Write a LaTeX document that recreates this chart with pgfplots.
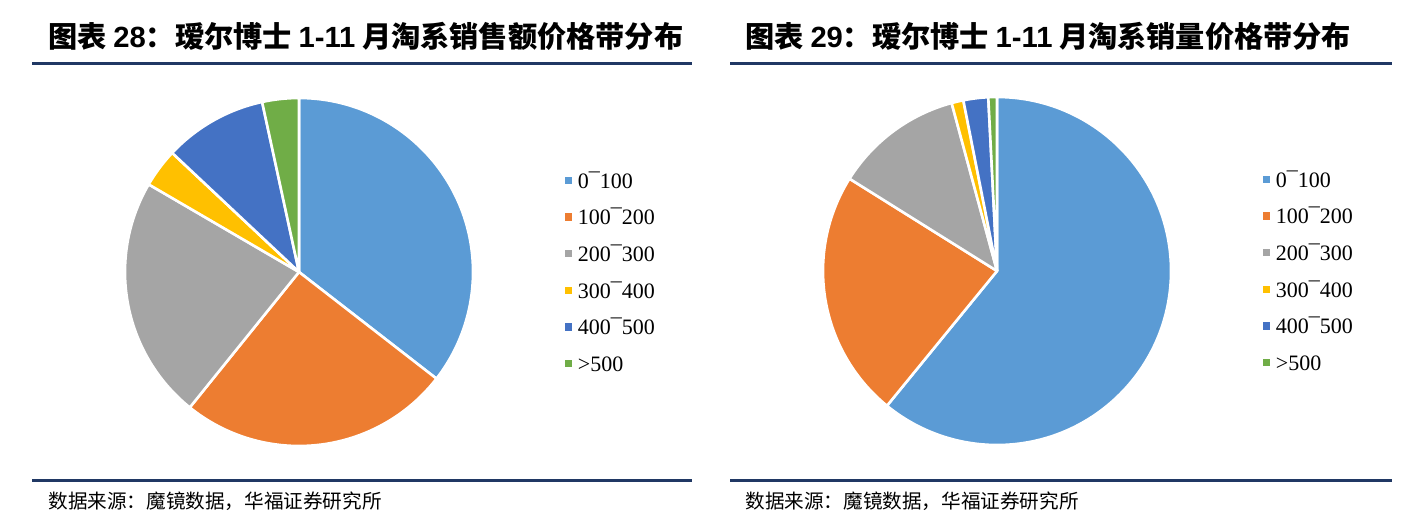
\documentclass[border=0pt]{standalone}
\usepackage{fontspec}
\setmainfont{Liberation Serif}
\newfontfamily\cjk{Noto Sans CJK SC}
\newfontfamily\arial{Liberation Sans}
\usepackage{pgfplots}
\usepackage{pgfplotstable}
\pgfplotsset{compat=1.18}

\definecolor{c0}{HTML}{5B9BD5}
\definecolor{c1}{HTML}{ED7D31}
\definecolor{c2}{HTML}{A5A5A5}
\definecolor{c3}{HTML}{FFC000}
\definecolor{c4}{HTML}{4472C4}
\definecolor{c5}{HTML}{70AD47}
\definecolor{rule}{RGB}{32,56,100}

% shares in percent, clockwise from 12 o'clock
\pgfplotstableread{
band share
0-100 35.5
100-200 25.3
200-300 22.6
300-400 3.6
400-500 9.6
500+ 3.4
}\salesdata

\pgfplotstableread{
band share
0-100 60.9
100-200 23.0
200-300 11.9
300-400 1.1
400-500 2.3
500+ 0.8
}\volumedata

% radius of the pie in pt (one axis unit)
\def\R{87}

\newcommand\drawpie[1]{%
  \def\cum{0}%
  \pgfplotsforeachungrouped \i in {0,...,5}{%
    \pgfplotstablegetelem{\i}{share}\of{#1}%
    \let\s\pgfplotsretval
    \pgfmathsetmacro\a{90-3.6*\cum}%
    \pgfmathsetmacro\b{90-3.6*(\cum+\s)}%
    \pgfmathsetmacro\cum{\cum+\s}%
    \edef\cmd{\noexpand\fill[c\i, draw=white, line width=1.3pt, line join=round]
      (axis cs:0,0) -- ++(\a:\R pt) arc[start angle=\a, end angle=\b, radius=\R pt] -- cycle;}%
    \cmd
  }%
}

\newcommand\sq[1]{\addlegendimage{legend image code/.code={\fill[#1] (0pt,-1.6pt) rectangle (3.2pt,1.6pt);}}}

\pgfplotsset{
  pie/.style={
    x=\R pt, y=\R pt,
    xmin=-1, xmax=1, ymin=-1, ymax=1,
    hide axis, clip=false,
    anchor=center,
    legend cell align=left,
    legend style={draw=none, fill=none, at={(1.245,0.799)}, anchor=north west,
      font=\fontsize{11pt}{13pt}\selectfont, row sep=10.3pt,
      nodes={inner sep=0pt, text height=8pt, text depth=0pt},
      /tikz/every odd column/.append style={column sep=3pt}},
  }
}

\begin{document}
\begin{tikzpicture}
\useasboundingbox (0,0) rectangle (708pt,-265.5pt);

\begin{scope}[x=0.5pt, y=-0.5pt]
  % titles
  \node[anchor=base west, inner sep=0pt, font=\fontsize{14.6pt}{18pt}\selectfont] at (48,47)
    {\cjk\bfseries 图表 {\arial\bfseries 28}：瑷尔博士 {\arial\bfseries 1-11} 月淘系销售额价格带分布};
  \node[anchor=base west, inner sep=0pt, font=\fontsize{14.6pt}{18pt}\selectfont] at (745,47)
    {\cjk\bfseries 图表 {\arial\bfseries 29}：瑷尔博士 {\arial\bfseries 1-11} 月淘系销量价格带分布};
  % rules
  \draw[rule, line width=1.5pt] (32,63) -- (692,63);
  \draw[rule, line width=1.5pt] (730,63) -- (1392,63);
  \draw[rule, line width=1.5pt] (32,480) -- (692,480);
  \draw[rule, line width=1.5pt] (730,480) -- (1392,480);
  % sources
  \node[anchor=base west, inner sep=0pt, font=\fontsize{9.8pt}{12pt}\selectfont] at (48,508)
    {\cjk 数据来源：魔镜数据，华福证券研究所};
  \node[anchor=base west, inner sep=0pt, font=\fontsize{9.8pt}{12pt}\selectfont] at (745,508)
    {\cjk 数据来源：魔镜数据，华福证券研究所};
\end{scope}

\begin{axis}[pie, at={(149.5pt,-136pt)}]
  \drawpie{\salesdata}
  \sq{c0}\addlegendentry{0¯100}
  \sq{c1}\addlegendentry{100¯200}
  \sq{c2}\addlegendentry{200¯300}
  \sq{c3}\addlegendentry{300¯400}
  \sq{c4}\addlegendentry{400¯500}
  \sq{c5}\addlegendentry{>500}
\end{axis}

\begin{axis}[pie, at={(498.5pt,-135.5pt)}]
  \drawpie{\volumedata}
  \sq{c0}\addlegendentry{0¯100}
  \sq{c1}\addlegendentry{100¯200}
  \sq{c2}\addlegendentry{200¯300}
  \sq{c3}\addlegendentry{300¯400}
  \sq{c4}\addlegendentry{400¯500}
  \sq{c5}\addlegendentry{>500}
\end{axis}
\end{tikzpicture}
\end{document}
